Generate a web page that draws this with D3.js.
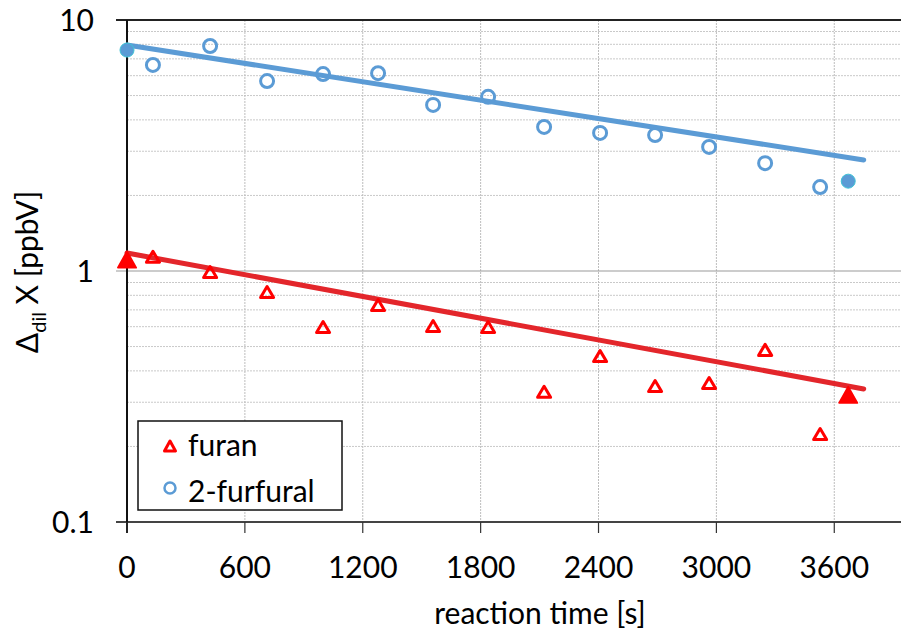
<!DOCTYPE html>
<html>
<head>
<meta charset="utf-8">
<script src="https://cdn.jsdelivr.net/npm/d3@7"></script>
<style>
  body { margin: 0; background: #fff; }
  svg { font-family: Lato, "Open Sans", sans-serif; }
</style>
</head>
<body>
<svg id="chart" width="901" height="634"></svg>
<script>
// reaction times [s], shared by both series
const times = [0, 132, 423, 713, 998, 1278, 1558, 1838, 2123, 2408, 2688, 2963, 3248, 3528, 3671];
const furan = [1.11, 1.14, 0.99, 0.825, 0.598, 0.732, 0.604, 0.598, 0.330, 0.458, 0.348, 0.358, 0.485, 0.224, 0.321];
const furfural = [7.59, 6.62, 7.88, 5.71, 6.09, 6.14, 4.59, 4.94, 3.75, 3.55, 3.48, 3.12, 2.69, 2.16, 2.28];
// exponential fits, start / end
const furanFit = [[0, 1.18], [3750, 0.339]];
const furfuralFit = [[0, 7.95], [3750, 2.77]];
const xTicks = [0, 600, 1200, 1800, 2400, 3000, 3600];
const yTicks = [0.1, 1, 10];
const yMinor = [0.2, 0.3, 0.4, 0.5, 0.6, 0.7, 0.8, 0.9, 2, 3, 4, 5, 6, 7, 8, 9];
const legendItems = ["furan", "2-furfural"];

const red = "#ff0000", redLine = "#e3262b", blue = "#5b9bd5";

const svg = d3.select("#chart");
const x = d3.scaleLinear().domain([0, 3960]).range([127, 905]);
const y = d3.scaleLog().domain([0.1, 10]).range([522, 20]);

const grid = svg.append("g");
grid.selectAll("line.minor")
    .data(yMinor)
    .join("line")
    .attr("x1", 127).attr("x2", 901)
    .attr("y1", d => y(d)).attr("y2", d => y(d))
    .attr("stroke", "#c9c9c9").attr("stroke-width", 1).attr("stroke-dasharray", "2,1");
grid.selectAll("line.vx")
    .data(xTicks.slice(1))
    .join("line")
    .attr("x1", d => x(d)).attr("x2", d => x(d))
    .attr("y1", 20).attr("y2", 522)
    .attr("stroke", "#bdbdbd").attr("stroke-width", 1).attr("stroke-dasharray", "2,1");
// major line at 1
grid.append("line")
    .attr("x1", 116).attr("x2", 901)
    .attr("y1", y(1)).attr("y2", y(1))
    .attr("stroke", "#999").attr("stroke-width", 1.2);

// frame
svg.append("line").attr("x1", 116).attr("x2", 901).attr("y1", y(10)).attr("y2", y(10))
    .attr("stroke", "#222").attr("stroke-width", 2);
svg.append("line").attr("x1", 116).attr("x2", 901).attr("y1", y(0.1)).attr("y2", y(0.1))
    .attr("stroke", "#444").attr("stroke-width", 2);
svg.append("line").attr("x1", x(0)).attr("x2", x(0)).attr("y1", 20).attr("y2", 533)
    .attr("stroke", "#111").attr("stroke-width", 2);

// x ticks + labels
svg.selectAll("line.xt")
    .data(xTicks)
    .join("line")
    .attr("x1", d => x(d)).attr("x2", d => x(d))
    .attr("y1", 522).attr("y2", 533)
    .attr("stroke", "#333").attr("stroke-width", 1.2);
svg.selectAll("text.xl")
    .data(xTicks)
    .join("text")
    .attr("x", d => x(d)).attr("y", 578)
    .attr("text-anchor", "middle")
    .attr("font-size", 30)
    .text(d => d);
svg.selectAll("text.yl")
    .data(yTicks)
    .join("text")
    .attr("x", 94).attr("y", d => y(d) + 11)
    .attr("text-anchor", "end")
    .attr("font-size", 30)
    .text(d => d);

// axis titles
svg.append("text")
    .attr("x", 540).attr("y", 624)
    .attr("text-anchor", "middle")
    .attr("font-size", 30)
    .text("reaction time [s]");
const yt = svg.append("text")
    .attr("transform", "translate(38,272) rotate(-90)")
    .attr("text-anchor", "middle")
    .attr("font-size", 30);
yt.append("tspan").text("Δ");
yt.append("tspan").attr("font-size", 20).attr("dy", 8).text("dil");
yt.append("tspan").attr("dy", -8).text(" X [ppbV]");

// fit lines
const line = d3.line().x(d => x(d[0])).y(d => y(d[1]));
svg.append("path").datum(furfuralFit).attr("d", line)
    .attr("fill", "none").attr("stroke", blue).attr("stroke-width", 5).attr("stroke-linecap", "round");
svg.append("path").datum(furanFit).attr("d", line)
    .attr("fill", "none").attr("stroke", redLine).attr("stroke-width", 5).attr("stroke-linecap", "round");

function tri(w, h) {
  return `M0,${-h / 2}L${w / 2},${h / 2}L${-w / 2},${h / 2}Z`;
}

const last = times.length - 1;
const furanPts = times.map((t, i) => ({ t, v: furan[i], end: i === 0 || i === last }));
const furfuralPts = times.map((t, i) => ({ t, v: furfural[i], end: i === 0 || i === last }));

// furfural markers
svg.selectAll("circle.ff")
    .data(furfuralPts.filter(d => !d.end))
    .join("circle")
    .attr("cx", d => x(d.t)).attr("cy", d => y(d.v)).attr("r", 6.5)
    .attr("fill", "none").attr("stroke", blue).attr("stroke-width", 3);
svg.selectAll("circle.ffe")
    .data(furfuralPts.filter(d => d.end))
    .join("circle")
    .attr("cx", d => x(d.t)).attr("cy", d => y(d.v)).attr("r", 7)
    .attr("fill", blue).attr("stroke", "#3fc4d6").attr("stroke-width", 1);

// furan markers
svg.selectAll("path.fu")
    .data(furanPts.filter(d => !d.end))
    .join("path")
    .attr("transform", d => `translate(${x(d.t)},${y(d.v)})`)
    .attr("d", tri(13, 11))
    .attr("fill", "none").attr("stroke", red).attr("stroke-width", 3).attr("stroke-linejoin", "round");
svg.selectAll("path.fue")
    .data(furanPts.filter(d => d.end))
    .join("path")
    .attr("transform", d => `translate(${x(d.t)},${y(d.v)})`)
    .attr("d", tri(18, 16))
    .attr("fill", red).attr("stroke", red).attr("stroke-width", 2).attr("stroke-linejoin", "round");

// legend
const lg = svg.append("g");
lg.append("rect").attr("x", 138).attr("y", 421).attr("width", 204).attr("height", 89)
    .attr("fill", "#fff").attr("stroke", "#111").attr("stroke-width", 1.5);
lg.append("path").attr("transform", "translate(170,446)").attr("d", tri(11, 10))
    .attr("fill", "none").attr("stroke", red).attr("stroke-width", 3).attr("stroke-linejoin", "round");
lg.append("circle").attr("cx", 170).attr("cy", 488).attr("r", 5.5)
    .attr("fill", "none").attr("stroke", blue).attr("stroke-width", 2.5);
lg.selectAll("text")
    .data(legendItems)
    .join("text")
    .attr("x", 188).attr("y", (d, i) => 456 + i * 46)
    .attr("font-size", 30)
    .text(d => d);
</script>
</body>
</html>
